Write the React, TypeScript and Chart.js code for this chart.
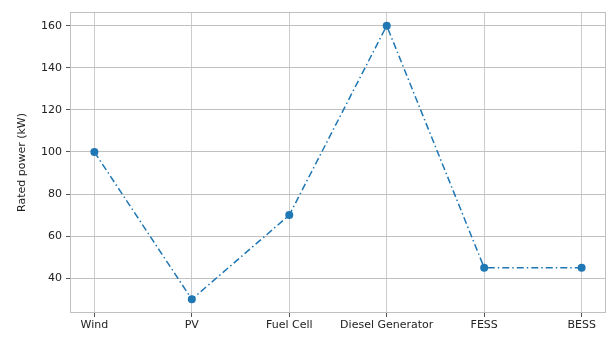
import React, { useEffect, useRef } from "react";
import { Chart, registerables } from "chart.js";

Chart.register(...registerables);

const categories = ["Wind", "PV", "Fuel Cell", "Diesel Generator", "FESS", "BESS"];
const ratedPower = [100, 30, 70, 160, 45, 45];
const yTicks = [40, 60, 80, 100, 120, 140, 160];

const frame = {
  id: "frame",
  afterDatasetsDraw(chart: any) {
    const { ctx, chartArea } = chart;
    ctx.save();
    ctx.strokeStyle = "#c0c0c0";
    ctx.lineWidth = 1;
    ctx.strokeRect(chartArea.left + 0.5, chartArea.top + 0.5, chartArea.right - chartArea.left - 1, chartArea.bottom - chartArea.top - 1);
    ctx.restore();
  },
};

export default function App() {
  const ref = useRef<HTMLCanvasElement>(null);
  useEffect(() => {
    document.body.style.margin = "0";
    const font = { family: "DejaVu Sans", size: 11 };
    const chart = new Chart(ref.current!, {
      type: "line",
      data: {
        datasets: [
          {
            data: ratedPower.map((v, i) => ({ x: i, y: v })),
            borderColor: "#1f77b4",
            backgroundColor: "#1f77b4",
            borderWidth: 1.5,
            borderDash: [7, 3, 1.5, 3],
            pointRadius: 4,
            pointBorderWidth: 0,
            pointBackgroundColor: "#1f77b4",
          },
        ],
      },
      plugins: [frame],
      options: {
        animation: false,
        responsive: false,
        layout: { padding: { left: 14, top: 12, right: 5, bottom: 0 } },
        plugins: { legend: { display: false }, tooltip: { enabled: false } },
        scales: {
          x: {
            type: "linear",
            min: -0.25,
            max: categories.length - 0.75,
            afterBuildTicks: (s: any) => {
              s.ticks = categories.map((_, i) => ({ value: i }));
            },
            afterFit: (s: any) => {
              s.height = 27;
            },
            ticks: {
              callback: (v: any) => categories[v as number] ?? "",
              color: "#222",
              font,
              padding: 2,
              maxRotation: 0,
              autoSkip: false,
            },
            grid: { color: "#cccccc", tickColor: "#555", tickLength: 4 },
            border: { display: false },
          },
          y: {
            type: "linear",
            min: 23.5,
            max: 166.5,
            afterBuildTicks: (s: any) => {
              s.ticks = yTicks.map((v) => ({ value: v }));
            },
            afterFit: (s: any) => {
              s.width = 56;
            },
            ticks: { color: "#222", font, padding: 4 },
            grid: { color: "#c0c0c0", tickColor: "#555", tickLength: 4 },
            border: { display: false },
            title: { display: true, text: "Rated power (kW)", color: "#222", font, padding: 2 },
          },
        },
      },
    });
    return () => chart.destroy();
  }, []);
  return <canvas ref={ref} width={611} height={340} style={{ display: "block" }} />;
}
